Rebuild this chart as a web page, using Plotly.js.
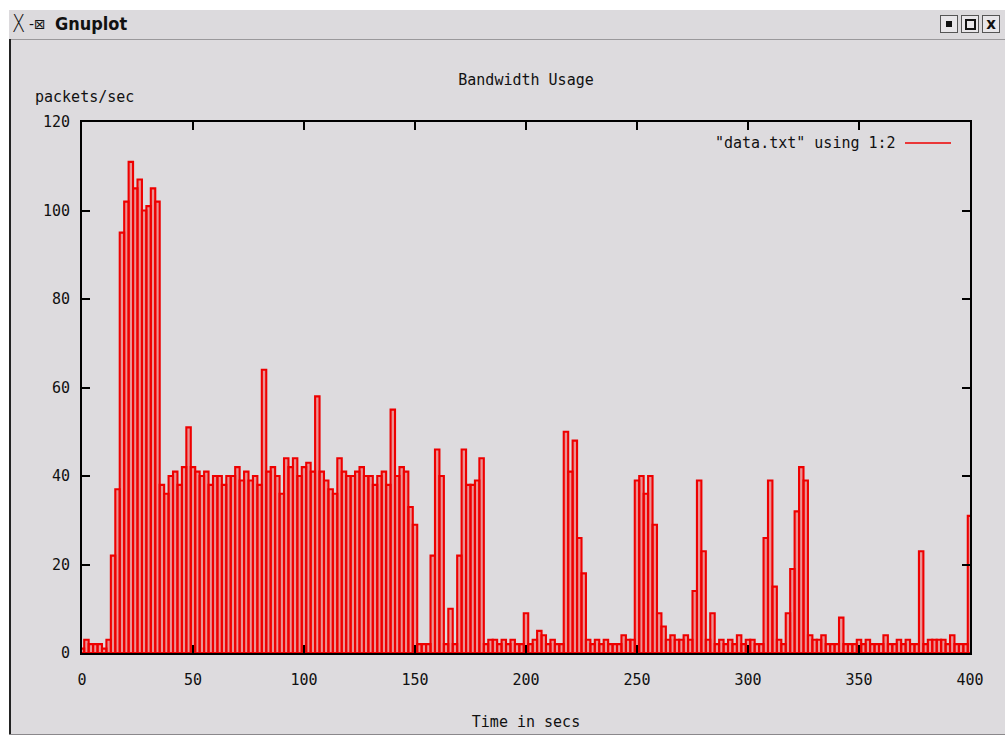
<!DOCTYPE html>
<html>
<head>
<meta charset="utf-8">
<script src="https://cdn.plot.ly/plotly-3.0.1.min.js"></script>
<style>
  html, body { margin: 0; padding: 0; background: #ffffff; }
  #wrap { position: relative; width: 1005px; height: 740px; overflow: hidden; }
  #chart { position: absolute; left: 0; top: 0; width: 1005px; height: 740px; }
  .ov { position: absolute; }
</style>
</head>
<body>
<div id="wrap">
  <div id="chart"></div>
  <div class="ov" style="left:0;top:0;width:1005px;height:10px;background:#ffffff;"></div>
  <div class="ov" style="left:0;top:0;width:9px;height:740px;background:#ffffff;"></div>
  <div class="ov" style="left:9px;top:10px;width:996px;height:29px;background:#dcdadd;border-bottom:1px solid #9a989b;"></div>
  <div class="ov" style="left:12px;top:11px;font-family:'DejaVu Sans';font-size:24px;font-weight:200;color:#111;line-height:26px;transform:scaleX(0.8);transform-origin:left;">X</div>
  <div class="ov" style="left:29px;top:14px;font-family:'DejaVu Sans';font-size:14px;color:#111;line-height:20px;">-⊠</div>
  <div class="ov" style="left:55px;top:12px;font-family:'DejaVu Sans';font-size:17px;font-weight:bold;color:#111;line-height:24px;transform:scaleX(0.95);transform-origin:left;">Gnuplot</div>
  <div class="ov" style="left:940px;top:15px;width:16px;height:16px;border:1px solid #555;background:#e8e6e9;"><div style="position:absolute;left:5px;top:5px;width:6px;height:6px;background:#111;"></div></div>
  <div class="ov" style="left:961px;top:15px;width:16px;height:16px;border:1px solid #555;background:#e8e6e9;"><div style="position:absolute;left:3px;top:3px;width:7px;height:7px;border:2px solid #111;"></div></div>
  <div class="ov" style="left:982px;top:15px;width:16px;height:16px;border:1px solid #555;background:#e8e6e9;font-family:'DejaVu Sans';font-weight:bold;font-size:15px;line-height:16px;text-align:center;color:#111;">x</div>
  <div class="ov" style="left:9px;top:39px;width:2px;height:697px;background:#222;"></div>
  <div class="ov" style="left:9px;top:734px;width:996px;height:1px;background:#8a888b;"></div>
  <div class="ov" style="left:9px;top:735px;width:996px;height:5px;background:#ffffff;"></div>
</div>
<script>
// Time in seconds (x values)
const seconds = [
  0, 2, 4, 6, 8, 10, 12, 14, 16, 18,
  20, 22, 24, 26, 28, 30, 32, 34, 36, 38,
  40, 42, 44, 46, 48, 50, 52, 54, 56, 58,
  60, 62, 64, 66, 68, 70, 72, 74, 76, 78,
  80, 82, 84, 86, 88, 90, 92, 94, 96, 98,
  100, 102, 104, 106, 108, 110, 112, 114, 116, 118,
  120, 122, 124, 126, 128, 130, 132, 134, 136, 138,
  140, 142, 144, 146, 148, 150, 152, 154, 156, 158,
  160, 162, 164, 166, 168, 170, 172, 174, 176, 178,
  180, 182, 184, 186, 188, 190, 192, 194, 196, 198,
  200, 202, 204, 206, 208, 210, 212, 214, 216, 218,
  220, 222, 224, 226, 228, 230, 232, 234, 236, 238,
  240, 242, 244, 246, 248, 250, 252, 254, 256, 258,
  260, 262, 264, 266, 268, 270, 272, 274, 276, 278,
  280, 282, 284, 286, 288, 290, 292, 294, 296, 298,
  300, 302, 304, 306, 308, 310, 312, 314, 316, 318,
  320, 322, 324, 326, 328, 330, 332, 334, 336, 338,
  340, 342, 344, 346, 348, 350, 352, 354, 356, 358,
  360, 362, 364, 366, 368, 370, 372, 374, 376, 378,
  380, 382, 384, 386, 388, 390, 392, 394, 396, 398,
  400
];

// packets/sec (y values)
const packets = [
  1, 3, 2, 2, 2, 1, 3, 22, 37, 95,
  102, 111, 105, 107, 100, 101, 105, 102, 38, 36,
  40, 41, 38, 42, 51, 42, 41, 40, 41, 38,
  40, 40, 38, 40, 40, 42, 39, 41, 39, 40,
  38, 64, 41, 42, 40, 36, 44, 42, 44, 40,
  42, 43, 41, 58, 41, 39, 37, 36, 44, 41,
  40, 40, 41, 42, 40, 40, 38, 40, 41, 38,
  55, 40, 42, 41, 33, 29, 2, 2, 2, 22,
  46, 40, 2, 10, 2, 22, 46, 38, 38, 39,
  44, 2, 3, 3, 2, 3, 2, 3, 2, 2,
  9, 2, 3, 5, 4, 2, 3, 2, 2, 50,
  41, 48, 26, 18, 3, 2, 3, 2, 3, 2,
  2, 2, 4, 3, 3, 39, 40, 36, 40, 29,
  9, 6, 3, 4, 3, 3, 4, 3, 14, 39,
  23, 3, 9, 2, 3, 2, 3, 2, 4, 2,
  3, 3, 2, 2, 26, 39, 15, 3, 2, 9,
  19, 32, 42, 39, 4, 3, 3, 4, 2, 2,
  2, 8, 2, 2, 2, 3, 2, 3, 2, 2,
  2, 4, 2, 2, 3, 2, 3, 2, 2, 23,
  2, 3, 3, 3, 3, 2, 4, 2, 2, 2,
  31
];

const chartTitle = 'Bandwidth Usage';
const xTitle = 'Time in secs';
const yTitle = 'packets/sec';
const legendLabel = '"data.txt" using 1:2';

const RED = 'rgb(238,0,0)';
const BG = 'rgb(221,219,222)';
const FONT = 'DejaVu Sans Mono, monospace';

const trace = {
  type: 'bar',
  x: seconds,
  y: packets,
  marker: { color: 'rgba(255,30,30,0.38)', line: { color: RED, width: 2.1 } },
  showlegend: false,
  hoverinfo: 'x+y'
};

const axisCommon = {
  showgrid: false,
  zeroline: false,
  showline: true,
  linecolor: '#000',
  linewidth: 2,
  mirror: 'ticks',
  ticks: 'inside',
  ticklen: 8,
  tickwidth: 2,
  tickcolor: '#000',
  tickfont: { family: FONT, size: 15, color: '#111' }
};

const layout = {
  width: 1005,
  height: 740,
  autosize: false,
  margin: { l: 82, r: 35, t: 122, b: 87 },
  paper_bgcolor: BG,
  plot_bgcolor: BG,
  bargap: 0,
  title: {
    text: chartTitle,
    font: { family: FONT, size: 15, color: '#111' },
    x: 0.5, xref: 'paper', xanchor: 'center',
    y: 1 - 80 / 740, yref: 'container', yanchor: 'middle'
  },
  xaxis: Object.assign({}, axisCommon, {
    range: [0, 400],
    dtick: 50,
    tick0: 0,
    ticklabelstandoff: 12,
    title: { text: xTitle, font: { family: FONT, size: 15, color: '#111' }, standoff: 28 }
  }),
  yaxis: Object.assign({}, axisCommon, {
    range: [0, 120],
    dtick: 20,
    tick0: 0,
    ticklabelstandoff: 7
  }),
  annotations: [
    {
      text: yTitle, xref: 'paper', yref: 'paper',
      x: (33 - 82) / 888, y: (653 - 97) / 531,
      xanchor: 'left', yanchor: 'middle', showarrow: false,
      font: { family: FONT, size: 15, color: '#111' }
    },
    {
      text: legendLabel, xref: 'paper', yref: 'paper',
      x: (898 - 82) / 888, y: (653 - 143) / 531,
      xanchor: 'right', yanchor: 'middle', showarrow: false,
      font: { family: FONT, size: 15, color: '#111' }
    }
  ],
  shapes: [
    {
      type: 'line', xref: 'paper', yref: 'paper',
      x0: (905 - 82) / 888, x1: (951 - 82) / 888,
      y0: (653 - 143) / 531, y1: (653 - 143) / 531,
      line: { color: RED, width: 1.7 }
    }
  ]
};

Plotly.newPlot('chart', [trace], layout, { displayModeBar: false, staticPlot: true });
</script>
</body>
</html>
